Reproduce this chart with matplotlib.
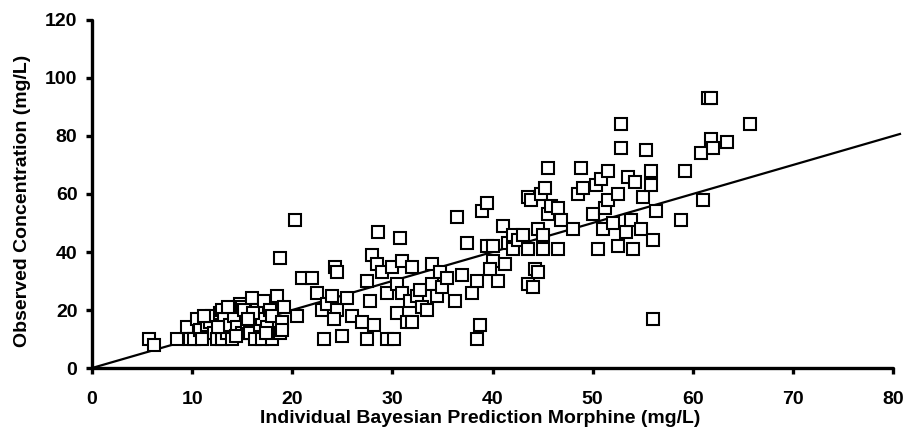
import numpy as np
import matplotlib
matplotlib.use("Agg")
import matplotlib.pyplot as plt

# Observed vs individual Bayesian predicted morphine concentrations (mg/L)
predicted = [
    5.7, 6.2, 8.5, 9.5, 9.8, 10.2, 10.5, 10.8, 11.0, 11.5, 11.8, 12.0, 12.2, 12.5,
    12.8, 13.0, 13.0, 13.2, 13.5, 13.8, 14.0, 14.2, 14.5, 14.8, 15.0, 15.0, 15.2,
    15.5, 15.8, 16.0, 16.3, 16.5, 16.8, 17.0, 17.0, 17.2, 17.5, 17.8, 18.0, 18.0,
    18.5, 18.8, 19.0, 19.0, 19.2, 11.2, 12.6, 14.4, 16.1, 17.4, 13.6, 15.6,
    18.8, 20.3, 20.5, 21.0, 22.0, 22.5, 23.0, 23.2, 23.5, 24.0, 24.3, 24.5, 24.5,
    24.2, 25.0, 25.5, 26.0, 27.0, 27.5, 27.5, 27.8, 28.0, 28.2, 28.5, 28.6, 29.0,
    29.5, 29.5, 30.0, 30.2, 30.5, 30.5, 30.8, 31.0, 31.0, 31.5, 31.8, 32.0, 32.0,
    32.5, 32.8, 33.0, 33.5, 34.0, 34.0, 34.5, 34.8, 35.0, 35.5, 36.5, 36.3, 37.0,
    37.5, 38.0, 38.5, 38.5, 38.8, 39.0, 39.5, 39.5, 40.0, 40.5, 39.8, 40.0, 41.0,
    41.2, 41.5, 42.0, 42.0, 42.5, 43.0, 43.5, 43.8, 43.5, 43.5, 44.0, 44.2, 44.5,
    44.5, 44.8, 45.0, 45.2, 45.0, 45.5, 45.5, 45.8, 46.5, 46.5, 46.8, 48.0, 48.5,
    48.8, 49.0, 50.0, 50.3, 50.5, 50.8, 51.0, 51.2, 51.5, 51.5, 52.0, 52.5, 52.5,
    52.8, 52.8, 53.3, 53.5, 53.8, 54.0, 54.2, 54.8, 55.0, 55.3, 55.8, 55.8, 56.0,
    56.0, 56.3, 58.8, 59.2, 60.8, 61.0, 61.5, 61.8, 61.8, 62.0, 63.4, 65.7,
]
observed = [
    10, 8, 10, 14, 10, 10, 17, 13, 10, 15, 16, 18, 12, 10,
    19, 20, 10, 17, 12, 15, 10, 18, 14, 22, 21, 12, 20,
    16, 12, 24, 10, 20, 15, 17, 10, 23, 14, 20, 10, 18,
    25, 12, 16, 13, 21, 18, 14, 11, 19, 12, 21, 17,
    38, 51, 18, 31, 31, 26, 20, 10, 22, 25, 35, 33, 20,
    17, 11, 24, 18, 16, 30, 10, 23, 39, 15, 36, 47, 33,
    26, 10, 35, 10, 19, 29, 45, 26, 37, 16, 23, 35, 16,
    25, 27, 21, 20, 36, 29, 25, 33, 28, 31, 52, 23, 32,
    43, 26, 30, 10, 15, 54, 57, 42, 37, 30, 34, 42, 49,
    36, 43, 41, 46, 44, 46, 59, 58, 41, 29, 28, 34, 33,
    48, 60, 46, 62, 41, 69, 53, 56, 55, 41, 51, 48, 60,
    69, 62, 53, 63, 41, 65, 48, 55, 58, 68, 50, 60, 42,
    76, 84, 47, 66, 51, 41, 64, 48, 59, 75, 68, 63, 44,
    17, 54, 51, 68, 74, 58, 93, 93, 79, 76, 78, 84,
]

# Fitted line through the origin, drawn a little past the last tick
fit_x = [0, 80.7]
fit_slope = 1.0

plt.rcParams["font.family"] = ["Liberation Sans", "DejaVu Sans"]
plt.rcParams["font.weight"] = "bold"

fig = plt.figure(figsize=(9.05, 4.47), dpi=100, facecolor="white")
ax = fig.add_axes([0.1017, 0.1767, 0.885, 0.7786])

ax.plot(predicted, observed, linestyle="none", marker="s", markersize=8.6,
        markerfacecolor="white", markeredgecolor="black", markeredgewidth=1.5,
        zorder=3)
ax.plot(fit_x, [fit_slope * v for v in fit_x], color="black", linewidth=1.6,
        zorder=2, clip_on=False)

ax.set_xlim(0, 80)
ax.set_ylim(0, 120)
ax.set_xticks(np.arange(0, 81, 10))
ax.set_yticks(np.arange(0, 121, 20))

for side in ("top", "right"):
    ax.spines[side].set_visible(False)
for side in ("left", "bottom"):
    ax.spines[side].set_linewidth(2.4)
    ax.spines[side].set_capstyle("round")
ax.tick_params(direction="out", length=4.5, width=2.4, labelsize=14)
ax.tick_params(axis="x", pad=12)
ax.tick_params(axis="y", pad=6)
for lab in ax.get_xticklabels() + ax.get_yticklabels():
    lab.set_fontweight("bold")

ax.set_xlabel("Individual Bayesian Prediction Morphine (mg/L)",
              fontsize=14, fontweight="bold")
ax.set_ylabel("Observed Concentration (mg/L)",
              fontsize=14, fontweight="bold")
ax.xaxis.set_label_coords(0.485, -0.12)
ax.yaxis.set_label_coords(-0.076, 0.48)

fig.savefig("out.png", dpi=100, facecolor="white")
